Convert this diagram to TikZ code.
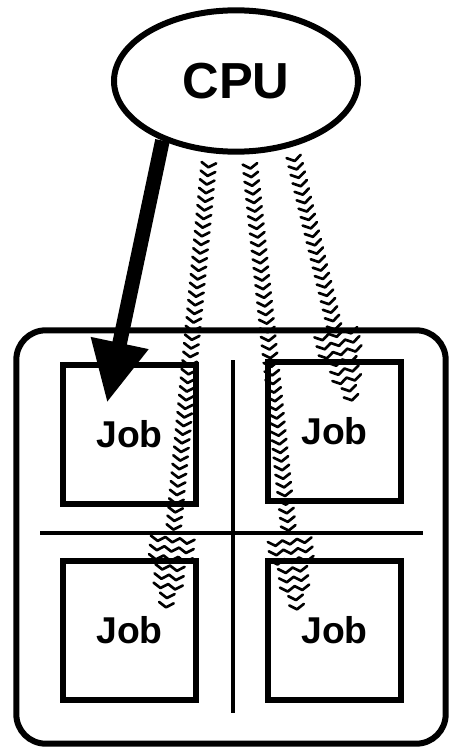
\documentclass[tikz,border=0pt]{standalone}
\usepackage{fontspec}
\setmainfont{Liberation Sans}
\usetikzlibrary{arrows.meta,shapes.geometric,decorations.markings}

% one row of humps across a wavy arrow, #1 = shift back along the path
\newcommand{\wavrow}[2][0pt]{%
  \draw[wavline] (#1-1.75pt,-#2*5.5pt)
    \foreach \k in {1,...,#2} {-- ++(3.5pt,5.5pt) -- ++(-3.5pt,5.5pt)};}
\newcommand{\wavhead}{%
  \foreach \s/\n in {-50pt/3,-43pt/3,-36pt/3,-29pt/2,-22pt/2,-15pt/2,-8pt/1,-1pt/1}
    {\wavrow[\s]{\n}}}

\tikzset{
  wavline/.style={line width=2pt,line join=round,line cap=round},
  jobbox/.style={draw,line width=4.5pt,minimum width=100pt,minimum height=104pt,
    inner sep=0pt,font=\fontsize{28}{30}\selectfont\bfseries},
  wavy/.style={decorate,decoration={markings,
    mark=between positions 9pt and -56pt step 6.5pt with {\wavrow{1}},
    mark=at position -0.5pt with {\wavhead}}}
}

\begin{document}
\begin{tikzpicture}[x=0.75pt,y=-0.75pt]
  \useasboundingbox (0,0) rectangle (452,749);
  \node[ellipse,draw,line width=4.5pt,minimum width=183pt,minimum height=106pt,
    inner sep=0pt,font=\fontsize{38}{40}\selectfont\bfseries] (cpu) at (236,81) {CPU};
  \node[draw,line width=4.5pt,rounded corners=22pt,minimum width=322pt,
    minimum height=310pt] (pool) at (231,537) {};
  \draw[line width=3pt] (233,360) -- (233,713);
  \draw[line width=3pt] (40,533) -- (423,533);
  \node[jobbox] (jobA) at (129.5,434.5) {Job};
  \node[jobbox] (jobB) at (334.5,431.5) {Job};
  \node[jobbox] (jobC) at (129.5,630.5) {Job};
  \node[jobbox] (jobD) at (334.5,630.5) {Job};
  % arrow ends inside the jobs
  \coordinate (tipA) at (107,403);
  \coordinate (tipB) at (352,400);
  \coordinate (tipC) at (166,607);
  \coordinate (tipD) at (297,609);
  \draw[line width=11pt,-{Triangle[length=46pt,width=41pt]}] (cpu.-141) -- (tipA);
  \path[wavy] (cpu.-110) -- (tipC);
  \path[wavy] (cpu.-80) -- (tipD);
  \path[wavy] (cpu.-50) -- (tipB);
\end{tikzpicture}
\end{document}
